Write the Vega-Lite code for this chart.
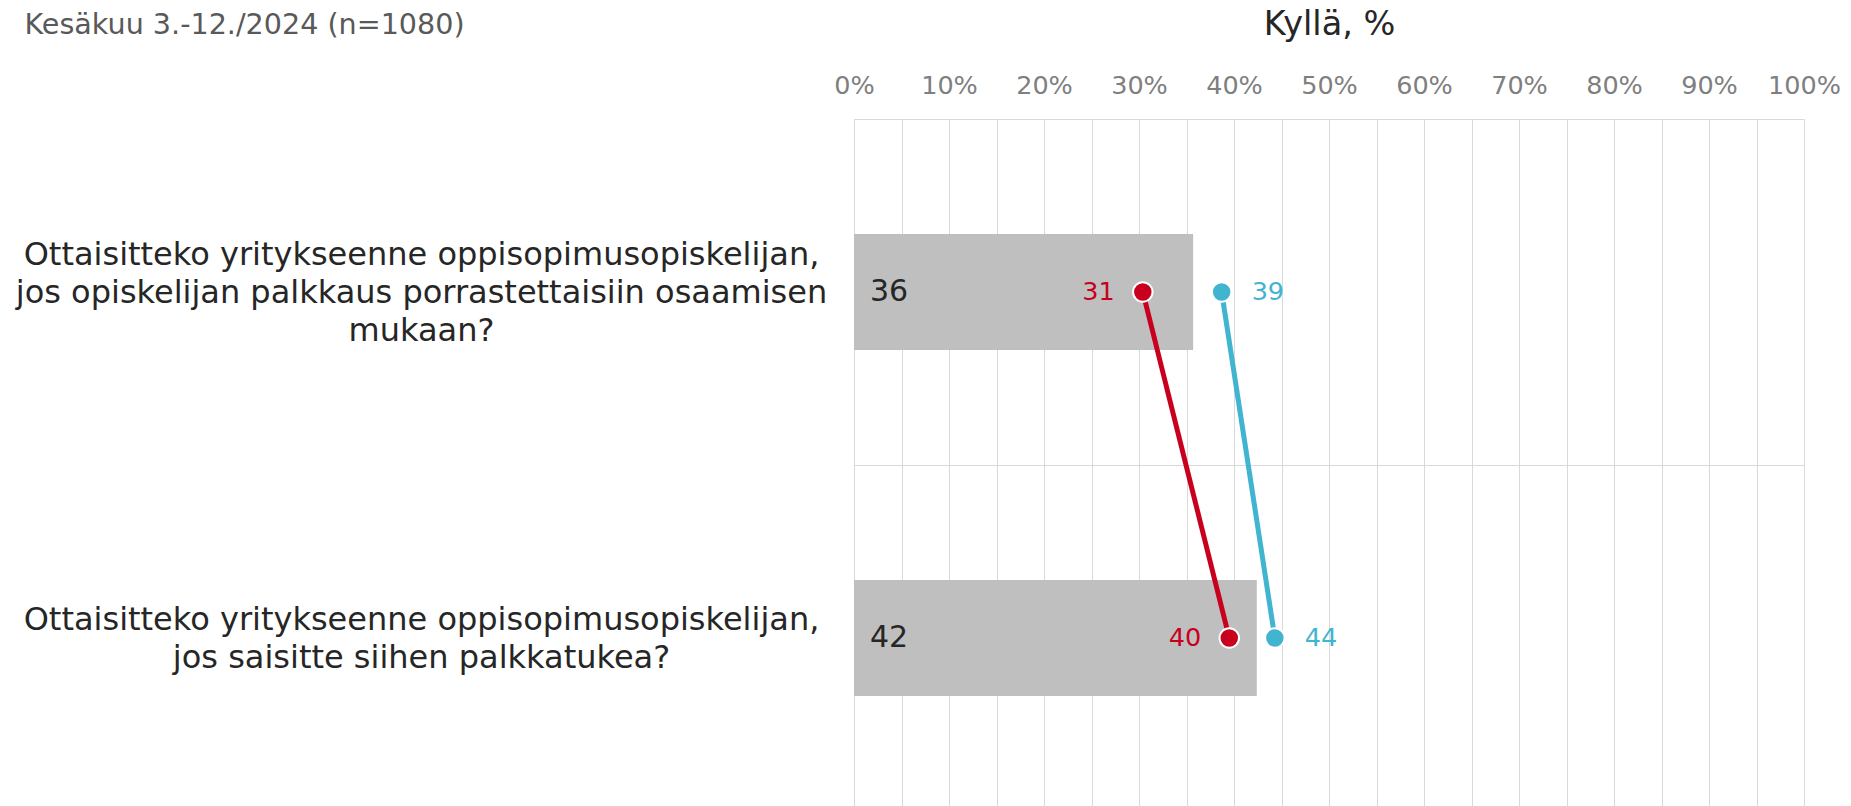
{
  "$schema": "https://vega.github.io/schema/vega-lite/v6.json",
  "autosize": {"type": "none"},
  "padding": {"left": 854, "top": 119, "right": 40, "bottom": 0},
  "width": 950,
  "height": 692,
  "background": "white",
  "config": {
    "font": "DejaVu Sans",
    "view": {"stroke": null}
  },
  "data": {
    "values": [
      {"kind": "bar", "q": "Q1", "series": "kaikki", "value": 35.7, "label": "36"},
      {"kind": "bar", "q": "Q2", "series": "kaikki", "value": 42.4, "label": "42"},
      {"kind": "point", "q": "Q1", "series": "punainen", "value": 30.4, "label": "31"},
      {"kind": "point", "q": "Q2", "series": "punainen", "value": 39.5, "label": "40"},
      {"kind": "point", "q": "Q1", "series": "sininen", "value": 38.7, "label": "39"},
      {"kind": "point", "q": "Q2", "series": "sininen", "value": 44.3, "label": "44"}
    ]
  },
  "layer": [
    {
      "transform": [{"filter": "datum.kind == 'bar'"}],
      "mark": {"type": "bar", "color": "#bfbfbf", "height": {"band": 0.335}},
      "encoding": {
        "y": {
          "field": "q",
          "type": "nominal",
          "scale": {"domain": ["Q1", "Q2"], "paddingInner": 0, "paddingOuter": 0},
          "axis": {
            "title": "Kesäkuu 3.-12./2024 (n=1080)",
            "titleAngle": 0,
            "titleX": -830,
            "titleY": -95,
            "titleAlign": "left",
            "titleBaseline": "middle",
            "titleFontSize": 28.6,
            "titleFontWeight": "normal",
            "titleColor": "#595959",
            "labelExpr": "datum.value == 'Q1' ? ['Ottaisitteko yritykseenne oppisopimusopiskelijan,', 'jos opiskelijan palkkaus porrastettaisiin osaamisen', 'mukaan?'] : datum.value == 'Q2' ? ['Ottaisitteko yritykseenne oppisopimusopiskelijan,', 'jos saisitte siihen palkkatukea?'] : ''",
            "labelAlign": "center",
            "labelBaseline": "middle",
            "labelOffset": {"condition": {"test": "datum.value == 'Q1'", "value": -38}, "value": -19},
            "labelPadding": 433,
            "labelLimit": 1000,
            "labelFontSize": 32,
            "labelLineHeight": 38,
            "labelColor": "#262626",
            "ticks": false,
            "tickSize": 0,
            "domain": false,
            "grid": true,
            "tickBand": "extent",
            "gridColor": "#d9d9d9",
            "gridWidth": 1
          }
        },
        "x": {
          "field": "value",
          "type": "quantitative",
          "scale": {"domain": [0, 100], "nice": false},
          "axis": {
            "orient": "top",
            "title": "Kyllä, %",
            "titleY": -95,
            "titleBaseline": "middle",
            "titleFontSize": 33.5,
            "titleFontWeight": "normal",
            "titleColor": "#262626",
            "values": [0, 5, 10, 15, 20, 25, 30, 35, 40, 45, 50, 55, 60, 65, 70, 75, 80, 85, 90, 95, 100],
            "labelExpr": "datum.value % 10 == 0 ? datum.value + '%' : ''",
            "labelFontSize": 25.5,
            "labelColor": "#7f7f7f",
            "labelBaseline": "middle",
            "labelPadding": 34,
            "labelFlush": false,
            "labelOverlap": false,
            "ticks": false,
            "tickSize": 0,
            "domain": false,
            "grid": true,
            "gridColor": "#d9d9d9",
            "gridWidth": 1
          }
        }
      }
    },
    {
      "transform": [{"filter": "datum.kind == 'bar'"}],
      "mark": {"type": "text", "align": "left", "baseline": "middle", "dx": 16, "fontSize": 30, "color": "#262626"},
      "encoding": {
        "y": {"field": "q", "type": "nominal"},
        "x": {"datum": 0, "type": "quantitative"},
        "text": {"field": "label"}
      }
    },
    {
      "transform": [{"filter": "datum.kind == 'point'"}],
      "mark": {"type": "line", "strokeWidth": 5},
      "encoding": {
        "y": {"field": "q", "type": "nominal"},
        "x": {"field": "value", "type": "quantitative"},
        "color": {"field": "series", "type": "nominal", "scale": {"domain": ["punainen", "sininen"], "range": ["#c8001e", "#41b4d0"]}, "legend": null}
      }
    },
    {
      "transform": [{"filter": "datum.kind == 'point'"}],
      "mark": {"type": "point", "filled": true, "size": 380, "stroke": "white", "strokeWidth": 2, "opacity": 1},
      "encoding": {
        "y": {"field": "q", "type": "nominal"},
        "x": {"field": "value", "type": "quantitative"},
        "color": {"field": "series", "type": "nominal", "legend": null}
      }
    },
    {
      "transform": [{"filter": "datum.series == 'punainen'"}],
      "mark": {"type": "text", "align": "right", "baseline": "middle", "dx": -28, "fontSize": 25.5},
      "encoding": {
        "y": {"field": "q", "type": "nominal"},
        "x": {"field": "value", "type": "quantitative"},
        "color": {"field": "series", "type": "nominal", "legend": null},
        "text": {"field": "label"}
      }
    },
    {
      "transform": [{"filter": "datum.series == 'sininen'"}],
      "mark": {"type": "text", "align": "left", "baseline": "middle", "dx": 30, "fontSize": 25.5},
      "encoding": {
        "y": {"field": "q", "type": "nominal"},
        "x": {"field": "value", "type": "quantitative"},
        "color": {"field": "series", "type": "nominal", "legend": null},
        "text": {"field": "label"}
      }
    }
  ]
}
